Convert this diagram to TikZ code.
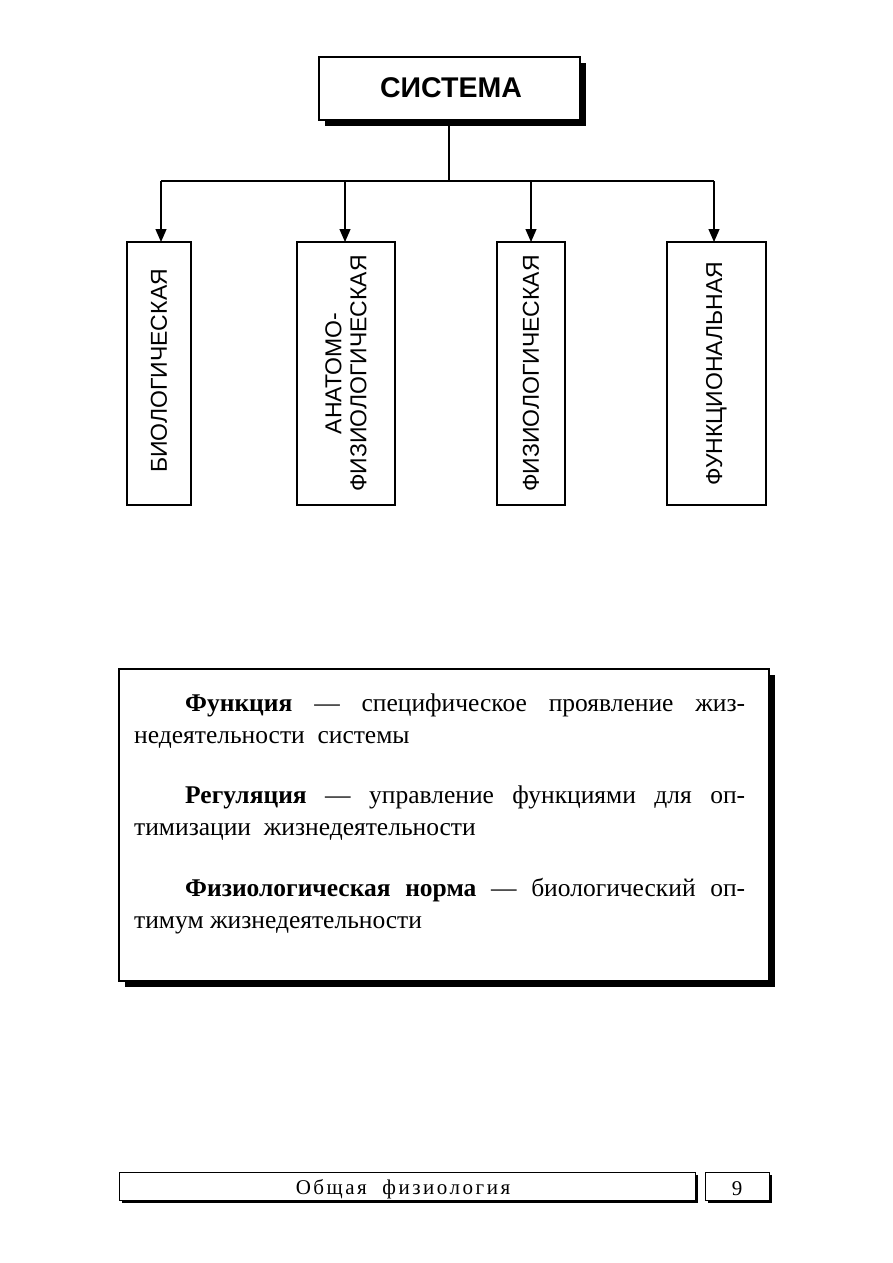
\documentclass[tikz,border=0pt]{standalone}
\usepackage{fontspec}
\setmainfont{Liberation Serif}
\setsansfont{Liberation Sans}
\usetikzlibrary{arrows.meta}
\begin{document}
\begin{tikzpicture}[x=1pt,y=-1pt,
  box/.style={draw,line width=1.3pt,fill=white},
  sh/.style={fill=black},
  arr/.style={line width=1.3pt,-{Triangle[length=13pt,width=11pt]}},
  vt/.style={rotate=90,font=\sffamily\fontsize{23}{25}\selectfont,align=center},
  para/.style={anchor=north west,inner sep=0pt,text width=611pt,align=justify,font=\fontsize{25.5}{32}\selectfont}]
\useasboundingbox (0,0) rectangle (893,1263);
% top
\fill[sh] (325,63) rectangle (586,126);
\draw[box] (319,57) rectangle (580,120);
\node[font=\sffamily\bfseries\fontsize{28.5}{30}\selectfont] (sys) at (451,88) {СИСТЕМА};
\coordinate (t) at (449,120);
\coordinate (j) at (449,181);
\draw[line width=1.3pt] (t) -- (j);
\coordinate (hl) at (161,181); \coordinate (hr) at (714,181);
\draw[line width=1.3pt] (hl) -- (hr);
% boxes
\draw[box] (127,242) rectangle (191,505); \node[vt] (b1) at (159,371) {БИОЛОГИЧЕСКАЯ};
\draw[box] (297,242) rectangle (395,505); \node[vt] (b2) at (346,373.5) {АНАТОМО-\\ФИЗИОЛОГИЧЕСКАЯ};
\draw[box] (497,242) rectangle (565,505); \node[vt] (b3) at (531,373.5) {ФИЗИОЛОГИЧЕСКАЯ};
\draw[box] (667,242) rectangle (766,505); \node[vt] (b4) at (716.5,373.5) {ФУНКЦИОНАЛЬНАЯ};
\coordinate (a1) at (161,242); \coordinate (a2) at (345,242);
\coordinate (a3) at (531,242); \coordinate (a4) at (714,242);
\coordinate (s1) at (161,181); \coordinate (s2) at (345,181);
\coordinate (s3) at (531,181); \coordinate (s4) at (714,181);
\draw[arr] (s1) -- (a1); \draw[arr] (s2) -- (a2);
\draw[arr] (s3) -- (a3); \draw[arr] (s4) -- (a4);
% definitions
\fill[sh] (125,675) rectangle (775,987);
\draw[box] (119,669) rectangle (769,981);
\node[para] (p1) at (134,694) {\hspace*{51pt}\textbf{Функция} — специфическое проявление жиз-\linebreak недеятельности~~системы};
\node[para] (p2) at (134,786) {\hspace*{51pt}\textbf{Регуляция} — управление функциями для оп-\linebreak тимизации~~жизнедеятельности};
\node[para] (p3) at (134,878) {\hspace*{51pt}\textbf{Физиологическая норма} — биологический оп-\linebreak тимум жизнедеятельности};
% footer
\fill[sh] (122,1175) rectangle (698,1203);
\draw[box,line width=1pt] (119,1172) rectangle (695,1200);
\node[font=\fontsize{21}{22}\selectfont\addfontfeature{LetterSpace=12}] (f1) at (403,1189) {Общая\ \ физиология};
\fill[sh] (708,1175) rectangle (772,1203);
\draw[box,line width=1pt] (705,1172) rectangle (769,1200);
\node[font=\fontsize{21}{22}\selectfont] (f2) at (737,1189) {9};
\end{tikzpicture}
\end{document}
